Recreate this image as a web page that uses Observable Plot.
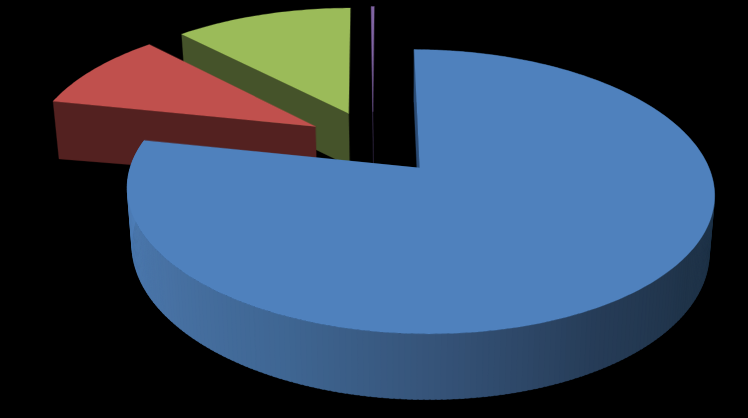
<!DOCTYPE html>
<html>
<head>
<meta charset="utf-8">
<script src="https://cdn.jsdelivr.net/npm/d3@7"></script>
<script src="https://cdn.jsdelivr.net/npm/@observablehq/plot@0.6"></script>
<style>html,body{margin:0;padding:0;background:#000;overflow:hidden}svg{display:block}</style>
</head>
<body>
<div id="chart"></div>
<script>
// Chart data
const categories = ["A", "B", "C", "D"];
const shares = [78.2, 9.6, 12.0, 0.2];
const explodes = [0.256, 0.24, 0.24, 0.24];
const radii = [1, 1.015, 1.015, 1.015];
const topColors = ["#4f81bd", "#c0504d", "#9bbb59", "#8064a2"];
const wallColors = ["#1f3349", "#532120", "#45532a", "#40325a"];
// Shading of the blue rim: [angle clockwise from 12 o'clock, colour]
const rimAngles = [90, 125, 150, 180, 205, 235, 262, 281];
const rimShades = ["#1f3349", "#1f3349", "#263c57", "#36547a", "#3f6693", "#4872a4", "#4c7bb2", "#4f81bd"];

// Pie view: perspective tilted plane
const rotation = 0.3;
const view = {x0: 372.5, horizon: -652.2, B: 817, R: 288.5, k: 0.168, cz: -0.181};

function project(X, Z) {
  const s = 1 / (1 - view.k * Z);
  return [view.x0 + view.R * X * s, view.horizon + view.B * s];
}
function lower([x, y]) {
  const h = y <= 113 ? 52.5 : 52.5 + (y - 113) * 0.06;
  return [400 + (x - 400) * 0.983, y + h + Math.max(0, Math.abs(x - 374) - 220) * 0.05 * (y < 130 ? 1 : 0)];
}
const rimColor = d3.scaleLinear().domain(rimAngles).range(rimShades).clamp(true);

const total = d3.sum(shares);
let cursor = rotation;
const slices = categories.map((name, i) => {
  const a0 = cursor, a1 = cursor + shares[i] / total * 360;
  cursor = a1;
  const mid = (a0 + a1) / 2 * Math.PI / 180;
  const cx = explodes[i] * Math.sin(mid), cz = view.cz - explodes[i] * Math.cos(mid);
  const rim = a => project(cx + radii[i] * Math.sin(a * Math.PI / 180), cz - radii[i] * Math.cos(a * Math.PI / 180));
  const apex = project(cx, cz);
  return {name, i, a0, a1, apex, rim};
});

function rows(points, id, color) {
  return points.map(([x, y]) => ({x, y, id, color}));
}
function sliceLayers(sl) {
  const out = [];
  const {i, a0, a1, apex, rim} = sl;
  // outer rim wall of the front-facing slice, in overlapping strips so no seams show
  if (i === 0) {
    const steps = Math.ceil(a1 - a0);
    for (let n = 0; n < steps; n++) {
      const p = a0 + (a1 - a0) * n / steps, q = a0 + (a1 - a0) * (n + 1) / steps;
      const P = rim(p), Q = rim(Math.min(a1, q + 0.6));
      out.push(...rows([P, Q, lower(Q), lower(P)], `${i}-rim-${n}`, rimColor((p + q) / 2)));
    }
  }
  // the radial wall that faces the viewer
  const S = rim(a0);
  out.push(...rows([apex, S, lower(S), lower(apex)], `${i}-start`, i === 0 ? "#2a4a73" : wallColors[i]));
  // top surface
  const top = [apex];
  const n = Math.max(2, Math.ceil(a1 - a0));
  for (let t = 0; t <= n; t++) top.push(rim(a0 + (a1 - a0) * t / n));
  out.push(...rows(top, `${i}-top`, topColors[i]));
  return out;
}

const order = [3, 2, 1, 0];
const marks = order.map(i => Plot.line(sliceLayers(slices[i]), {
  x: "x", y: "y", z: "id", fill: "color", stroke: "color",
  strokeWidth: 0.3, curve: "linear-closed"
}));

const chart = Plot.plot({
  width: 748, height: 418,
  marginTop: 0, marginRight: 0, marginBottom: 0, marginLeft: 0,
  x: {domain: [0, 748], range: [0, 748], axis: null},
  y: {domain: [0, 418], range: [0, 418], axis: null},
  color: {type: "identity"},
  style: {background: "#000"},
  marks
});
document.getElementById("chart").append(chart);
</script>
</body>
</html>
